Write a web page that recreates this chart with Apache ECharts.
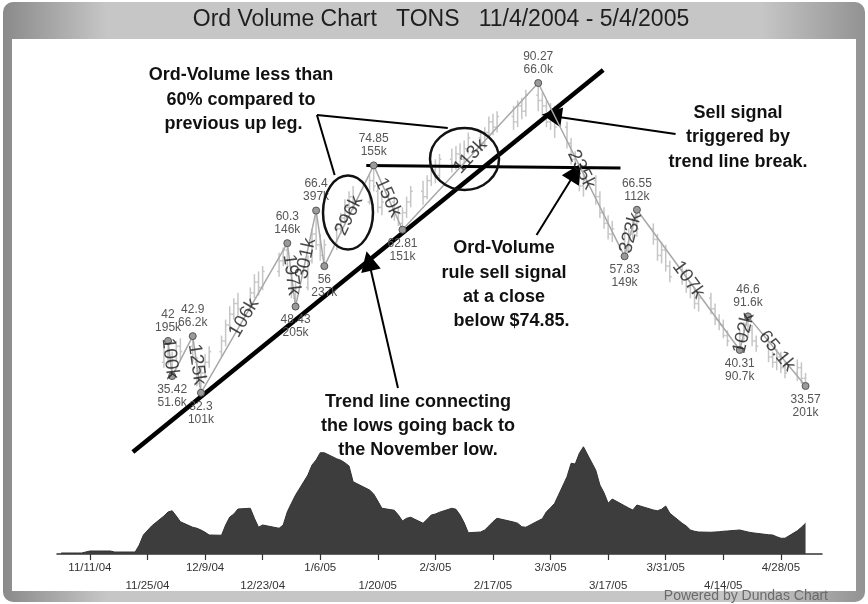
<!DOCTYPE html>
<html><head><meta charset="utf-8">
<script src="https://cdn.jsdelivr.net/npm/echarts@6/dist/echarts.min.js"></script>
<style>html,body{margin:0;padding:0;background:#fff}#c{width:868px;height:604px}</style>
</head><body><div id="c"></div>
<script>
// ---------- data ----------
const firstDate = '2004-11-04';
const lastDate = '2005-05-04';
const holidays = ['2004-11-25', '2004-12-24', '2005-01-17', '2005-02-21', '2005-03-25'];
const priceStartDate = '2004-11-29';
const tickDates = ['2004-11-11', '2004-11-25', '2004-12-09', '2004-12-23', '2005-01-06', '2005-01-20', '2005-02-03',
  '2005-02-17', '2005-03-03', '2005-03-17', '2005-03-31', '2005-04-14', '2005-04-28'];

// daily volume (k shares), one per trading day 11/4/04 .. 5/4/05
const volume = [
  4, 4, 4, 4, 8, 12, 12, 12, 12, 8, 8, 8, 8, 36, 76, 112, 152, 168,
  173, 152, 129, 107, 103, 96, 87, 76, 75, 116, 148, 160, 180, 183, 143, 107, 116, 103, 116, 169, 203, 236,
  316, 356, 376, 405, 405, 381, 375, 365, 352, 289, 256, 240, 212, 183, 175, 156, 132, 143, 147, 123,
  139, 156, 160, 167, 183, 179, 156, 125, 85, 88, 96, 112, 129, 143, 128, 123, 109, 107, 133,
  141, 169, 185, 203, 309, 363, 360, 403, 429, 335, 276, 245, 203, 220, 193, 184, 176, 196, 176, 173, 179, 192,
  163, 123, 112, 96, 91, 88, 87, 88, 89, 91, 92, 96, 92, 88, 85, 83, 77, 76, 69, 63, 63,
  93, 107, 123
];

// daily prices from 11/29/04
const priceOpen = [38, 40, 37, 39, 41, 41, 38, 33.5, 36, 38, 40, 42, 45, 47, 49, 48, 51, 53, 52, 55, 57, 59, 55, 50,
  52, 57, 62, 60, 57.5, 60, 63, 65, 67, 69, 68, 72, 70, 67, 68, 66, 64, 66, 68, 70,
  69, 72, 74, 73, 76, 75, 77, 76, 78, 80, 79, 81, 83, 82, 84, 83, 86, 85, 88,
  87, 86, 83, 85, 82, 79, 76, 74, 71, 72, 69, 66, 64, 62, 62, 59, 62, 64, 63, 61, 58, 59,
  56, 54, 55, 52, 51, 49, 50, 48, 46, 45, 43, 42, 43, 45, 44, 42, 41, 39, 38, 39, 37, 36, 37, 35];
const priceClose = [40, 38, 39, 41, 40, 39, 34, 36, 38, 40, 42, 45, 47, 49, 48, 51, 53, 52, 55, 57, 59, 56, 51, 52,
  57, 62, 60, 58, 60, 63, 65, 67, 69, 68, 72, 71, 67, 68, 66, 64, 66, 68, 70, 69,
  72, 74, 73, 76, 75, 77, 76, 78, 80, 79, 81, 83, 82, 84, 83, 86, 85, 88, 87,
  86, 83, 85, 82, 79, 76, 74, 71, 72, 69, 66, 64, 62, 63, 59, 62, 64, 63, 61, 58, 59, 56,
  54, 55, 52, 51, 49, 50, 48, 46, 45, 43, 42, 43, 45, 44, 42, 41, 39, 38, 39, 37, 36, 37, 35, 34];
const priceLow = [37, 37.5, 35.42, 38, 38.5, 38, 33.5, 32.3, 35, 37, 39, 41, 44, 46, 46.5, 47.5, 50, 50.5, 51.5, 54, 56, 55, 50, 48.43,
  51.5, 56.5, 59, 57, 56, 59, 62, 64, 66, 66.5, 67.5, 70, 66, 65.5, 64.5, 63.5, 62.81, 65, 67, 67.5,
  68.5, 71, 71.5, 72.5, 73.5, 74, 74.5, 75, 77, 77.5, 78, 80, 80.5, 81, 81.5, 82, 83.5, 84, 85,
  84, 82, 81.5, 80, 78, 75, 73, 70, 69, 67.5, 65, 63, 61, 60.5, 57.83, 58.5, 61, 61.5, 60, 57, 56.5, 55,
  53, 52.5, 51, 50, 48, 47.5, 47, 45, 44, 42.5, 41, 40.31, 42, 42.5, 41, 40, 38, 37, 36.5, 36, 35, 34.5, 34, 33.57];
const priceHigh = [41, 42, 40, 42, 42.5, 42.9, 39, 37, 39.5, 41, 43, 46, 48.5, 50, 51, 52, 54.5, 55, 56, 58.5, 59.5, 60.3, 56, 53,
  58, 63, 66.4, 62, 61, 64, 66, 68.5, 70, 71, 73, 74.85, 71, 69.5, 69, 67, 67, 69, 71, 72,
  73, 75, 76, 77, 78, 78.5, 79, 79.5, 81, 81.5, 82, 84, 84.5, 85, 86, 87, 87.5, 89, 90.27,
  88.5, 87, 86.5, 86, 83, 80, 77.5, 75, 73.5, 73, 70, 67, 65.5, 64.5, 63, 63, 65, 66.55, 64, 62, 60.5, 60,
  57, 56, 55.5, 53, 52, 51, 51, 49, 47, 46, 44, 44, 45.5, 46.6, 45, 43, 42, 40, 40.5, 40, 38, 38.5, 38, 36];

// swing points (zig-zag)
const swingDates = ['2004-11-30', '2004-12-01', '2004-12-06', '2004-12-08', '2004-12-29', '2004-12-31', '2005-01-05', '2005-01-07',
  '2005-01-19', '2005-01-26', '2005-02-28', '2005-03-21', '2005-03-24', '2005-04-18', '2005-04-20', '2005-05-04'];
const swingPrices = [42, 35.42, 42.9, 32.3, 60.3, 48.43, 66.4, 56, 74.85, 62.81, 90.27, 57.83, 66.55, 40.31, 46.6, 33.57];
const swingVolumes = ['195k', '51.6k', '66.2k', '101k', '146k', '205k', '397k', '237k', '155k', '151k', '66.0k', '149k', '112k', '90.7k', '91.6k', '201k'];
const legVolumes = ['100k', '', '125k', '106k', '197k', '301k', '', '296k', '150k', '113k', '235k', '323k', '107k', '102k', '65.1k'];

// ---------- helpers ----------
function toUTC(s) { const p = s.split('-'); return Date.UTC(+p[0], +p[1] - 1, +p[2]); }
const DAY = 86400000;
const t0 = toUTC(firstDate);
function dayNum(s) { return Math.round((toUTC(s) - t0) / DAY); }
function fmtDay(d) { const dt = new Date(t0 + d * DAY); return (dt.getUTCMonth() + 1) + '/' + dt.getUTCDate() + '/' + String(dt.getUTCFullYear()).slice(2); }
const tradeDays = [];
for (let t = t0; t <= toUTC(lastDate); t += DAY) {
  const wd = new Date(t).getUTCDay();
  const iso = new Date(t).toISOString().slice(0, 10);
  if (wd === 0 || wd === 6 || holidays.indexOf(iso) >= 0) continue;
  tradeDays.push(Math.round((t - t0) / DAY));
}
const tickDays = tickDates.map(dayNum);
const volData = tradeDays.map((d, i) => [d, volume[i]]);
const pStart = tradeDays.indexOf(dayNum(priceStartDate));
const ohlcData = priceOpen.map((o, i) => [tradeDays[pStart + i], o, priceClose[i], priceLow[i], priceHigh[i]]);
const swingData = swingDates.map((d, i) => ({
  value: [dayNum(d), swingPrices[i]],
  label: { position: i % 2 === 0 ? 'top' : 'bottom' }
}));

const chart = echarts.init(document.getElementById('c'), null, { renderer: 'canvas' });
const GL = 57, GW = 765;
const FONT = '"Liberation Sans", Arial, sans-serif';

const option = {
  animation: false,
  backgroundColor: '#ffffff',
  grid: [
    { left: GL, width: GW, top: 41.7, height: 416.8 },
    { left: GL, width: GW, top: 434, height: 120 }
  ],
  xAxis: [
    { gridIndex: 0, type: 'value', min: -1, max: 185, show: false },
    {
      gridIndex: 1, type: 'value', min: -1, max: 185,
      axisLine: { show: true, lineStyle: { color: '#333', width: 1.5 } },
      axisTick: { show: true, customValues: tickDays, length: 6, lineStyle: { color: '#333', width: 1.2 } },
      axisLabel: {
        show: true, customValues: tickDays, fontSize: 11.5, color: '#333', fontFamily: FONT, lineHeight: 18, margin: 5,
        formatter: function (v) { const k = tickDays.indexOf(v); const s = fmtDay(v); return k % 2 === 1 ? '\n' + s : s; }
      },
      splitLine: { show: false }
    }
  ],
  yAxis: [
    { gridIndex: 0, type: 'value', min: 20, max: 98, show: false },
    { gridIndex: 1, type: 'value', min: 0, max: 480, show: false }
  ],
  series: [
    {
      type: 'line', xAxisIndex: 1, yAxisIndex: 1, data: volData, symbol: 'none',
      lineStyle: { color: '#333', width: 1 }, areaStyle: { color: '#3d3d3d', opacity: 1 }, z: 2
    },
    {
      type: 'custom', xAxisIndex: 0, yAxisIndex: 0, data: ohlcData, z: 3,
      encode: { x: 0, y: [1, 2, 3, 4] },
      renderItem: function (params, api) {
        const x = api.value(0);
        const o = api.coord([x, api.value(1)]);
        const c = api.coord([x, api.value(2)]);
        const l = api.coord([x, api.value(3)]);
        const h = api.coord([x, api.value(4)]);
        const st = { stroke: '#c6c6c6', lineWidth: 1.5 };
        return {
          type: 'group', children: [
            { type: 'line', shape: { x1: l[0], y1: l[1], x2: h[0], y2: h[1] }, style: st },
            { type: 'line', shape: { x1: o[0] - 2, y1: o[1], x2: o[0], y2: o[1] }, style: st },
            { type: 'line', shape: { x1: c[0], y1: c[1], x2: c[0] + 2, y2: c[1] }, style: st }
          ]
        };
      }
    },
    {
      id: 'zigzag', type: 'line', xAxisIndex: 0, yAxisIndex: 0, data: swingData, z: 5,
      symbol: 'circle', symbolSize: 7,
      lineStyle: { color: '#a8a8a8', width: 1.5 },
      itemStyle: { color: '#9a9a9a', borderColor: '#555', borderWidth: 1 },
      label: {
        show: true, fontSize: 12, lineHeight: 13, color: '#555', distance: 3, fontFamily: FONT,
        formatter: function (p) { return p.value[1] + '\n' + swingVolumes[p.dataIndex]; }
      },
      markLine: {
        silent: true, animation: false, symbol: ['none', 'none'], label: { show: false },
        lineStyle: { color: '#000', type: 'solid', width: 2 },
        data: [
          [{ coord: [17.45, 21.22], lineStyle: { width: 4.5, color: '#000' } }, { coord: [131.8, 92.7] }],
          [{ coord: [74.2, 74.81], lineStyle: { width: 3, color: '#000' } }, { coord: [136.0, 74.36] }],
          [{ coord: [62.2, 84.28] }, { coord: [66.5, 73.05] }],
          [{ coord: [62.2, 84.28] }, { coord: [94.0, 81.85] }],
          [{ coord: [149.4, 80.73], symbol: 'none' }, { coord: [119.3, 84.09], symbol: 'triangle', symbolSize: 20 }],
          [{ coord: [115.6, 61.83], symbol: 'none' }, { coord: [125.1, 73.62], symbol: 'triangle', symbolSize: 20 }],
          [{ coord: [81.9, 33.2], symbol: 'none' }, { coord: [74.8, 56.96], symbol: 'triangle', symbolSize: 20 }]
        ]
      }
    },
    {
      id: 'legLabels', type: 'scatter', xAxisIndex: 0, yAxisIndex: 0, data: [], symbolSize: 0.1, z: 8,
      label: { show: true, position: 'inside', formatter: '{b}', fontSize: 19, color: '#1a1a1a', fontFamily: FONT }
    }
  ],
  graphic: [
    {
      type: 'rect', z: -10, silent: true, shape: { x: 3, y: 2, width: 862, height: 600, r: 10 },
      style: { fill: new echarts.graphic.LinearGradient(0, 0, 1, 0, [{ offset: 0, color: '#8a8a8a' }, { offset: 0.12, color: '#c6c6c6' }, { offset: 0.88, color: '#c6c6c6' }, { offset: 1, color: '#929292' }]) }
    },
    { type: 'rect', z: -9, silent: true, shape: { x: 12, y: 39, width: 844, height: 552 }, style: { fill: '#ffffff' } },
    {
      type: 'text', z: 50, silent: true,
      style: { text: 'Ord Volume Chart   TONS   11/4/2004 - 5/4/2005', x: 441, y: 20, align: 'center', verticalAlign: 'middle', font: '23px ' + FONT, fill: '#1e1e1e' }
    },
    {
      type: 'text', z: 50, silent: true,
      style: { text: 'Powered by Dundas Chart', x: 828, y: 596, align: 'right', verticalAlign: 'middle', font: '14px ' + FONT, fill: '#6a6a6a' }
    },
    {
      type: 'text', z: 60, silent: true,
      style: { text: 'Ord-Volume less than\n60% compared to\nprevious up leg.   ', x: 241, y: 63, align: 'center', verticalAlign: 'top', font: 'bold 18px ' + FONT, lineHeight: 24.5, fill: '#111' }
    },
    {
      type: 'text', z: 60, silent: true,
      style: { text: 'Sell signal\ntriggered by\ntrend line break.', x: 738, y: 100.2, align: 'center', verticalAlign: 'top', font: 'bold 18px ' + FONT, lineHeight: 24.7, fill: '#111' }
    },
    {
      type: 'text', z: 60, silent: true,
      style: { text: 'Ord-Volume\nrule sell signal\nat a close\n   below $74.85.', x: 504, y: 236.4, align: 'center', verticalAlign: 'top', font: 'bold 18px ' + FONT, lineHeight: 24.2, fill: '#111' }
    },
    {
      type: 'text', z: 60, silent: true,
      style: { text: 'Trend line connecting\nthe lows going back to\nthe November low.', x: 418, y: 389.8, align: 'center', verticalAlign: 'top', font: 'bold 18px ' + FONT, lineHeight: 24, fill: '#111' }
    },
    { type: 'ellipse', z: 60, silent: true, shape: { cx: 348, cy: 212.5, rx: 25, ry: 37 }, style: { fill: 'none', stroke: '#111', lineWidth: 2.5 } },
    { type: 'ellipse', z: 60, silent: true, shape: { cx: 464.5, cy: 159, rx: 34.5, ry: 31 }, style: { fill: 'none', stroke: '#111', lineWidth: 2.5 } }
  ]
};
chart.setOption(option);

// rotated leg-volume labels placed at each leg's midpoint, along the leg
const legData = [];
for (let i = 0; i < legVolumes.length; i++) {
  if (!legVolumes[i]) continue;
  const a = [dayNum(swingDates[i]), swingPrices[i]];
  const b = [dayNum(swingDates[i + 1]), swingPrices[i + 1]];
  const pa = chart.convertToPixel({ gridIndex: 0 }, a);
  const pb = chart.convertToPixel({ gridIndex: 0 }, b);
  const ang = Math.atan2(-(pb[1] - pa[1]), pb[0] - pa[0]) * 180 / Math.PI;
  legData.push({ name: legVolumes[i], value: [(a[0] + b[0]) / 2, (a[1] + b[1]) / 2], label: { rotate: ang } });
}
chart.setOption({ series: [{ id: 'legLabels', data: legData }] });
</script>
</body></html>
